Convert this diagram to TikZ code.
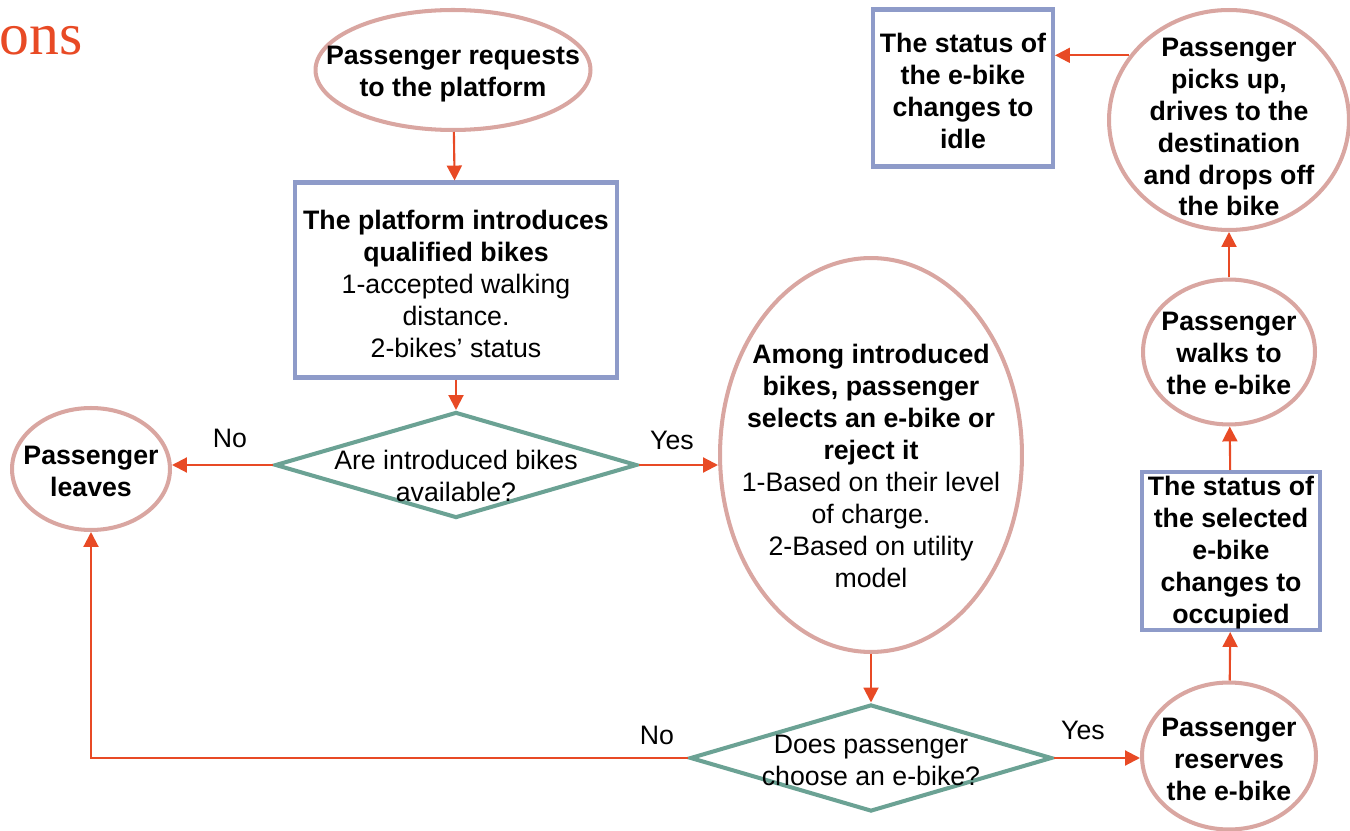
\documentclass[tikz,border=0pt]{standalone}
\usepackage{fontspec}
\setmainfont{Liberation Sans}
\newfontfamily\titleserif{Liberation Serif}
\usetikzlibrary{shapes.geometric,arrows.meta,positioning}
\definecolor{arrred}{HTML}{E84A25}
\definecolor{ovalpink}{HTML}{D9A6A1}
\definecolor{boxblue}{HTML}{8E9BC9}
\definecolor{diateal}{HTML}{6BA294}
\tikzset{
  oval/.style={ellipse, draw=ovalpink, line width=2.3pt, inner sep=0pt},
  box/.style={rectangle, draw=boxblue, line width=2.3pt, inner sep=0pt},
  decision/.style={diamond, draw=diateal, line width=2.3pt, inner sep=0pt},
  txt/.style={align=center, inner sep=0pt, font=\fontsize{15.2}{18.2}\selectfont},
  txtb/.style={txt, font=\fontsize{15.2}{18.2}\selectfont\bfseries},
  arr/.style={arrred, line width=1.2pt, -{Triangle[length=8.5pt,width=8.5pt]}},
}

\begin{document}
\begin{tikzpicture}[x=0.02cm, y=-0.02cm]
  \useasboundingbox (0,0) rectangle (1350,831);
  \node[anchor=base west, inner sep=0pt, text=arrred, font=\titleserif\fontsize{34}{40}\selectfont] (ttl) at (-1,55) {ons};
  %
  \node[oval, minimum width=5.5cm, minimum height=2.4cm] (req) at (453,70) {};
  \node[box, minimum width=6.44cm, minimum height=3.9cm] (intro) at (456,280) {};
  \node[decision, minimum width=7.24cm, minimum height=2.12cm] (avail) at (456,465) {};
  \node[oval, minimum width=3.16cm, minimum height=2.44cm] (leave) at (91,469) {};
  \node[oval, minimum width=6.04cm, minimum height=7.88cm] (select) at (871,455) {};
  \node[decision, minimum width=7.24cm, minimum height=2.14cm] (choose) at (871,758) {};
  \node[oval, minimum width=3.48cm, minimum height=2.94cm] (reserve) at (1229,756) {};
  \node[box, minimum width=3.56cm, minimum height=3.16cm] (occupied) at (1231,551) {};
  \node[oval, minimum width=3.44cm, minimum height=2.9cm] (walk) at (1229,352) {};
  \node[oval, minimum width=4.8cm, minimum height=4.4cm] (pick) at (1229,120) {};
  \node[box, minimum width=3.6cm, minimum height=3.14cm] (idle) at (963,88) {};
  %
  \node[txtb] (req-t) at (453,74) {Passenger requests\\to the platform};
  \node[txt] (intro-t) at (456,284) {\textbf{The platform introduces}\\\textbf{qualified bikes}\\1-accepted walking\\distance.\\2-bikes’ status};
  \node[txt] (avail-t) at (456,476) {Are introduced bikes\\available?};
  \node[txtb] (leave-t) at (91,471) {Passenger\\leaves};
  \node[txt] (select-t) at (871,466) {\textbf{Among introduced}\\\textbf{bikes, passenger}\\\textbf{selects an e-bike or}\\\textbf{reject it}\\1-Based on their level\\of charge.\\2-Based on utility\\model};
  \node[txt] (choose-t) at (871,760) {Does passenger\\choose an e-bike?};
  \node[txtb] (reserve-t) at (1229,759) {Passenger\\reserves\\the e-bike};
  \node[txtb] (occupied-t) at (1231,553) {The status of\\the selected\\e-bike\\changes to\\occupied};
  \node[txtb] (walk-t) at (1229,353) {Passenger\\walks to\\the e-bike};
  \node[txtb] (pick-t) at (1229,127) {Passenger\\picks up,\\drives to the\\destination\\and drops off\\the bike};
  \node[txtb] (idle-t) at (963,91) {The status of\\the e-bike\\changes to\\idle};
  %
  \draw[arr] (req) -- (intro);
  \draw[arr] (intro) -- (avail);
  \draw[arr] (avail.west) -- (avail.west -| leave.east);
  \draw[arr] (avail.east) -- (avail.east -| select.west);
  \draw[arr] (select) -- (choose);
  \draw[arr] (choose.west) -| (leave.south);
  \draw[arr] (choose.east) -- (choose.east -| reserve.west);
  \draw[arr] (reserve) -- (occupied);
  \draw[arr] (occupied) -- (walk);
  \draw[arr] (walk) -- (pick);
  \draw[arr] (pick.147) -- (pick.147 -| idle.east);
  %
  \node[txt] (no1) at (230,438) {No};
  \node[txt] (yes1) at (672,440) {Yes};
  \node[txt] (no2) at (657,735) {No};
  \node[txt] (yes2) at (1083,730) {Yes};
\end{tikzpicture}
\end{document}
